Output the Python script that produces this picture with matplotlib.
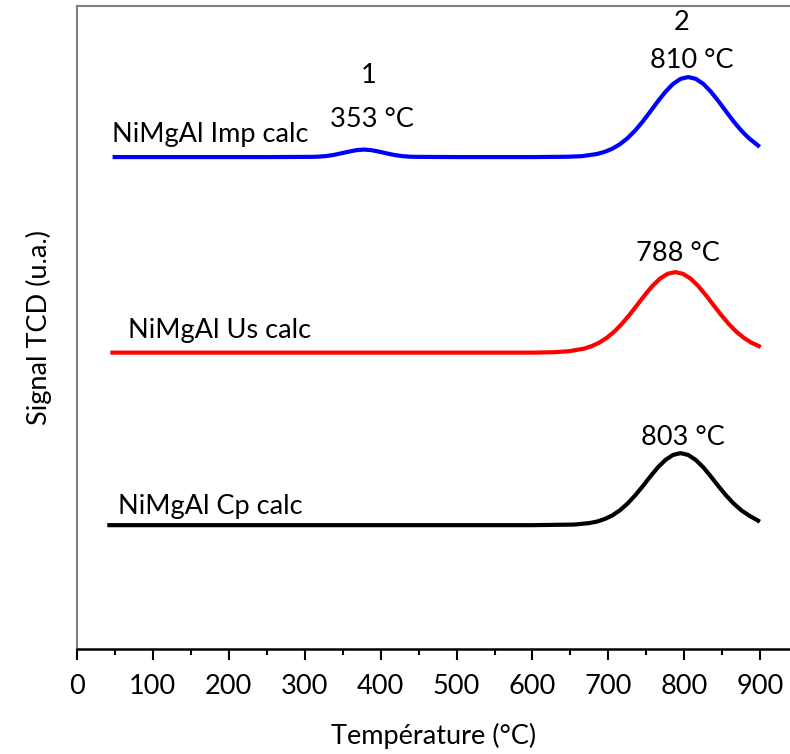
import matplotlib
matplotlib.use("Agg")
import matplotlib.pyplot as plt
from matplotlib.ticker import MultipleLocator

plt.rcParams['font.family'] = ['Lato', 'DejaVu Sans']

# TPR profiles (signal in arbitrary units)
t_imp = [50, 150, 250, 308, 318, 328, 338, 348, 358, 368, 378, 388, 398, 408, 418,
         428, 438, 448, 500, 600, 645, 665, 685, 695, 705, 715, 725, 735, 745, 755,
         765, 775, 785, 795, 805, 815, 825, 835, 845, 855, 865, 875, 885, 897]
s_imp = [492, 492, 492, 492.2, 492.4, 493, 494.1, 495.7, 497.4, 498.9, 499.5, 498.9, 497.4, 495.7, 494.1,
         493, 492.4, 492.2, 492, 492, 492.3, 492.9, 495.1, 497.2, 500.3, 504.8, 510.8, 518.4, 527.4, 537.4,
         547.7, 557.2, 565.1, 570.2, 572, 570.2, 565.1, 557.2, 547.7, 537.4, 527.4, 518.4, 510.8, 503.5]

t_us = [47, 200, 400, 600, 628, 648, 668, 678, 688, 698, 708, 718, 728, 738, 748,
        758, 768, 778, 788, 798, 808, 818, 828, 838, 848, 858, 868, 878, 888, 898]
s_us = [296.5, 296.5, 296.5, 296.5, 296.9, 297.9, 300.5, 303.0, 306.5, 311.4, 317.7, 325.5, 334.5, 344.3, 354.2,
        363.3, 370.6, 375.3, 377, 375.3, 370.6, 363.3, 354.2, 344.3, 334.5, 325.5, 317.7, 311.4, 306.5, 303.0]

t_cp = [43, 200, 400, 600, 655, 675, 685, 695, 705, 715, 725, 735, 745, 755, 765,
        775, 785, 795, 805, 815, 825, 835, 845, 855, 865, 875, 885, 897]
s_cp = [124, 124, 124, 124, 124.6, 126.1, 127.6, 130.1, 133.7, 138.8, 145.5, 153.6, 162.8, 172.5, 181.7,
        189.2, 194.2, 196, 194.2, 189.2, 181.7, 172.5, 162.8, 153.6, 145.5, 138.8, 133.7, 128.5]

labels = ["NiMgAl Imp calc", "NiMgAl Us calc", "NiMgAl Cp calc"]

fig = plt.figure(figsize=(7.9, 7.54), dpi=100)
ax = fig.add_axes([0.0971, 0.139, 0.9029, 0.853])

ax.plot(t_imp, s_imp, color='#0000ff', lw=3)
ax.plot(t_us, s_us, color='#ff0000', lw=3)
ax.plot(t_cp, s_cp, color='black', lw=3)

ax.set_xlim(0, 939)
ax.set_ylim(0, 643)

fs = 19.5
ax.text(47, 502, labels[0], fontsize=fs, va='bottom', ha='left')
ax.text(67, 306, labels[1], fontsize=fs, va='bottom', ha='left')
ax.text(55, 130, labels[2], fontsize=fs, va='bottom', ha='left')

ax.text(384, 574, "1", fontsize=fs, ha='center', va='center')
ax.text(388, 530, "353 °C", fontsize=fs, ha='center', va='center')
ax.text(796, 627, "2", fontsize=fs, ha='center', va='center')
ax.text(810, 589, "810 °C", fontsize=fs, ha='center', va='center')
ax.text(792, 396, "788 °C", fontsize=fs, ha='center', va='center')
ax.text(798, 212, "803 °C", fontsize=fs, ha='center', va='center')

ax.spines['right'].set_visible(False)
ax.spines['top'].set_color('#808080')
ax.spines['left'].set_color('#808080')
ax.spines['top'].set_linewidth(1.5)
ax.spines['left'].set_linewidth(1.5)
ax.spines['bottom'].set_linewidth(1.8)

ax.xaxis.set_major_locator(MultipleLocator(100))
ax.xaxis.set_minor_locator(MultipleLocator(50))
ax.tick_params(axis='x', which='major', direction='out', length=8, width=1.5, labelsize=fs, pad=10)
ax.tick_params(axis='x', which='minor', direction='out', length=4, width=1.5)
ax.set_xticks(range(0, 901, 100))
ax.set_yticks([])

ax.set_xlabel("Température (°C)", fontsize=fs, labelpad=17)
ax.set_ylabel("Signal TCD (u.a.)", fontsize=fs, labelpad=18)

fig.savefig("out.png", dpi=100)
